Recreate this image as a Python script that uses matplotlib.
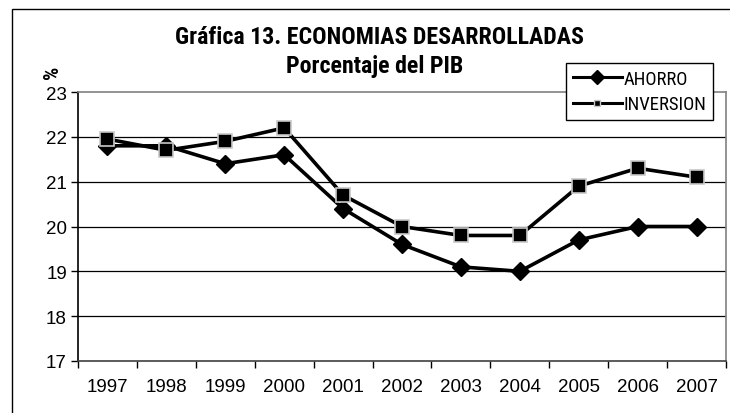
import matplotlib
matplotlib.use("Agg")
import matplotlib.pyplot as plt
from matplotlib.patches import Rectangle
from matplotlib.lines import Line2D

years = ["1997", "1998", "1999", "2000", "2001", "2002", "2003", "2004", "2005", "2006", "2007"]
ahorro = [21.8, 21.8, 21.4, 21.6, 20.4, 19.6, 19.1, 19.0, 19.7, 20.0, 20.0]
inversion = [21.95, 21.7, 21.9, 22.2, 20.7, 20.0, 19.8, 19.8, 20.9, 21.3, 21.1]
yticks = [17, 18, 19, 20, 21, 22, 23]

narrow = ['Roboto Condensed', 'DejaVu Sans']
plt.rcParams['font.family'] = ['Liberation Sans', 'DejaVu Sans']

W, H = 730, 414
fig = plt.figure(figsize=(W / 100, H / 100), dpi=100)
fig.patch.set_facecolor('white')

# outer chart border (clipped at right and bottom)
fig.patches.append(Rectangle((12 / W, -0.2), 1.2, (H - 10) / H + 0.2,
                             transform=fig.transFigure, fill=False,
                             edgecolor='black', linewidth=1.0))

ax = fig.add_axes([78 / W, (H - 362) / H, (726 - 78) / W, (362 - 93) / H])
x = list(range(len(years)))

ax.plot(x, ahorro, color='black', lw=2.6, marker='D', markersize=9.5,
        markerfacecolor='black', markeredgecolor='black', zorder=3, label='AHORRO')
ax.plot(x, inversion, color='black', lw=2.6, marker='s', markersize=10.5,
        markerfacecolor='black', markeredgecolor='#c8c8c8', markeredgewidth=1.2,
        zorder=4, label='INVERSION')

ax.set_xlim(-0.5, len(years) - 0.5)
ax.set_ylim(17, 23)
ax.set_yticks(yticks)
ax.set_yticklabels([str(v) for v in yticks], fontsize=13.5)
ax.set_xticks([i - 0.5 for i in range(len(years) + 1)])
ax.set_xticklabels([])
ax.set_xticks(x, minor=True)
ax.set_xticklabels(years, minor=True, fontsize=13.5)
ax.tick_params(axis='x', which='major', length=5, width=1, direction='out', color='black')
ax.tick_params(axis='x', which='minor', length=0, pad=12)
ax.tick_params(axis='y', length=5, width=1, direction='out', pad=3)

for v in yticks[1:-1]:
    ax.axhline(v, color='black', lw=0.9, zorder=1)
ax.spines['top'].set_color('#808080')
ax.spines['right'].set_color('#808080')
ax.spines['left'].set_color('black')
ax.spines['bottom'].set_color('#404040')
for s in ax.spines.values():
    s.set_linewidth(1.2)

fig.text(379 / W, 1 - 37 / H, 'Gráfica 13. ECONOMIAS DESARROLLADAS', ha='center', va='center',
         fontsize=17.2, fontweight='bold', family=narrow)
fig.text(375 / W, 1 - 66 / H, 'Porcentaje del PIB', ha='center', va='center',
         fontsize=17.2, fontweight='bold', family=narrow)
fig.text(53 / W, 1 - 72 / H, '%', ha='center', va='center', rotation=90,
         fontsize=15, fontweight='bold', family=narrow)

handles = [
    Line2D([], [], color='black', lw=2.2, marker='D', markersize=7, markerfacecolor='black'),
    Line2D([], [], color='black', lw=2.2, marker='s', markersize=5,
           markerfacecolor='black', markeredgecolor='#c8c8c8'),
]
leg = fig.legend(handles, ['AHORRO', 'INVERSION'], loc='upper right',
                 bbox_to_anchor=(713 / W, 1 - 64 / H), bbox_transform=fig.transFigure,
                 prop={'family': narrow, 'size': 13.5}, frameon=True, fancybox=False,
                 edgecolor='black', framealpha=1, handlelength=2.6, handletextpad=0.1,
                 borderpad=0.35, labelspacing=0.4, borderaxespad=0)
leg.get_frame().set_linewidth(1.0)

fig.savefig('out.png', dpi=100)
